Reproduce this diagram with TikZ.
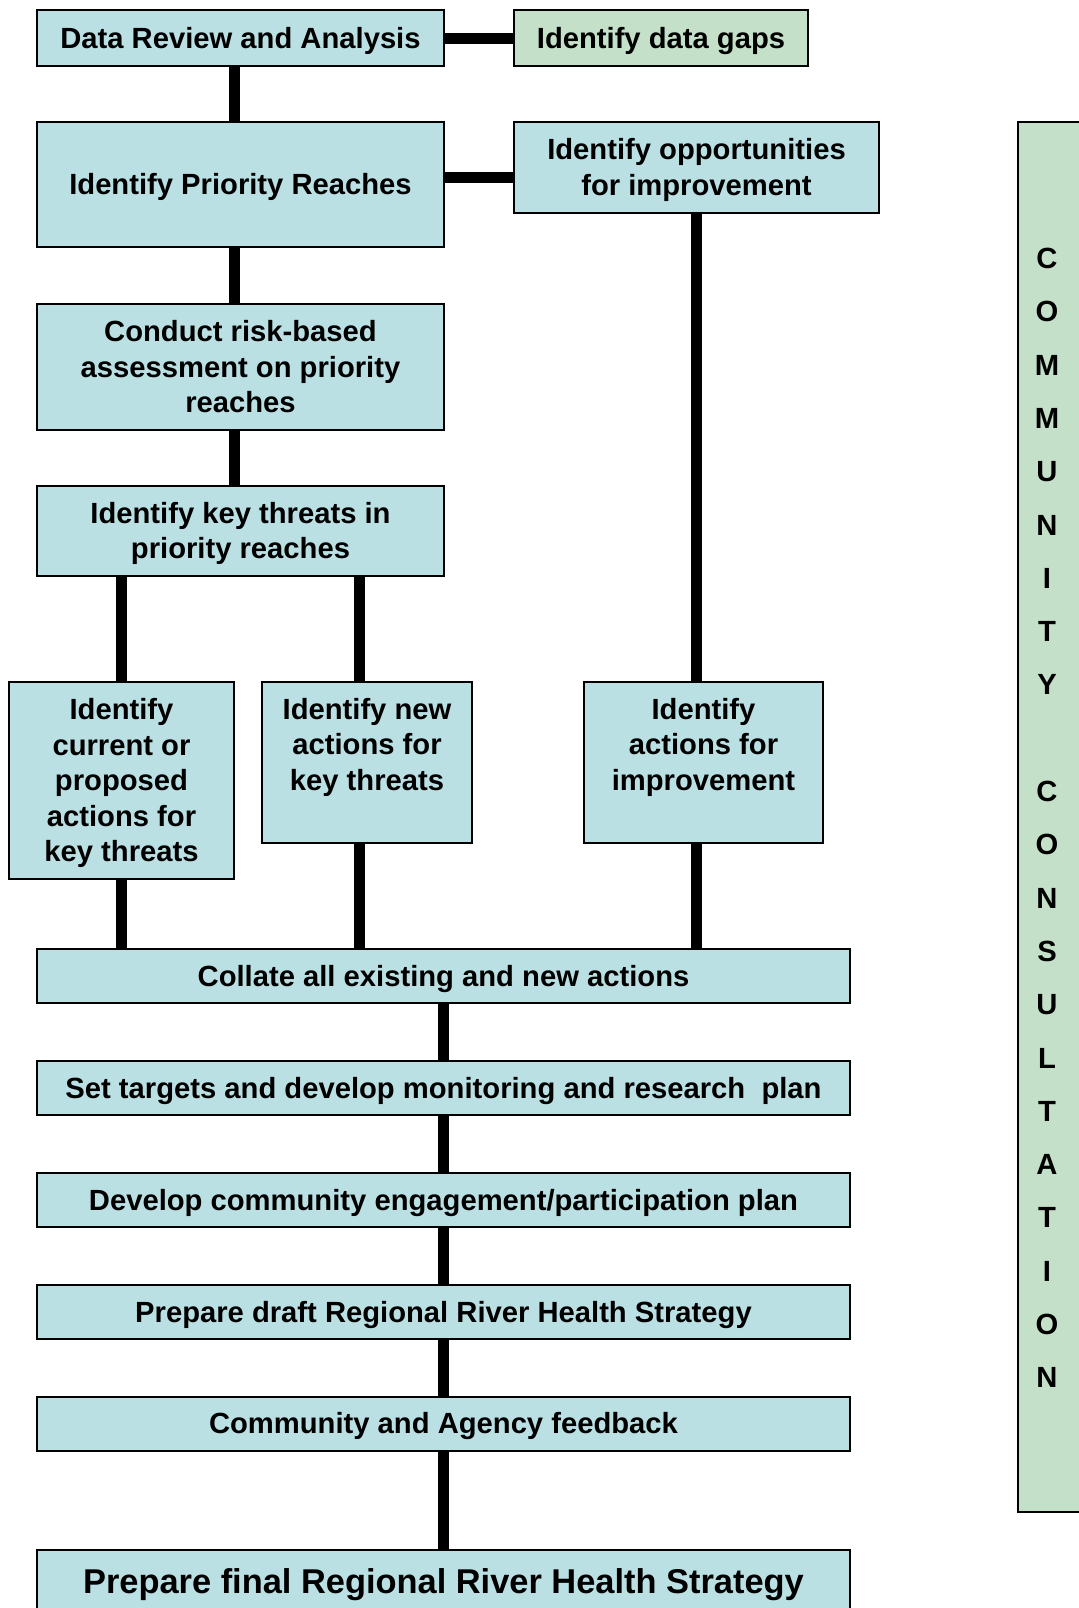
\documentclass[tikz,border=0pt]{standalone}
\usepackage{fontspec}
\setmainfont{Liberation Sans}
\usetikzlibrary{calc}
\usetikzlibrary{backgrounds}

\definecolor{boxblue}{RGB}{187,224,228}
\definecolor{boxgreen}{RGB}{196,224,200}

% line box as in the slide: full ascent and descent
\newcommand{\boxtext}[1]{\rule{0pt}{0.905em}#1\rule[-0.212em]{0pt}{0.212em}}

\tikzset{
  stage/.style={draw=black,line width=1pt,fill=boxblue,align=center,inner sep=0pt,
    font=\bfseries\fontsize{14.6}{17.7}\selectfont},
  widestage/.style={stage,minimum width=406.5pt,minimum height=27pt},
  gapbox/.style={stage,fill=boxgreen},
  link/.style={line width=5.5pt,line cap=round},
}

\begin{document}
\begin{tikzpicture}[x=0.5pt,y=-0.5pt]
        \useasboundingbox (0,0) rectangle (1079,1608);
        % left column
        \node[stage,minimum width=203.5pt,minimum height=28pt] (review) at (240.5,38) {\boxtext{Data Review and Analysis}};
        \node[gapbox,minimum width=147pt,minimum height=28pt] (gaps) at (661,38) {\boxtext{Identify data gaps}};
        \node[stage,minimum width=203.5pt,minimum height=62.5pt] (reaches) at (240.5,184.5) {\boxtext{Identify Priority Reaches}};
        \node[stage,minimum width=182.5pt,minimum height=45.5pt] (opps) at (696.5,167.5) {\boxtext{Identify opportunities\\for improvement}};
        \node[stage,minimum width=203.5pt,minimum height=63pt] (risk) at (240.5,367) {\boxtext{Conduct risk-based\\assessment on priority\\reaches}};
        \node[stage,minimum width=203.5pt,minimum height=45pt] (threats) at (240.5,531) {\boxtext{Identify key threats in\\priority reaches}};
        % actions
        \node[stage,minimum width=112.5pt,minimum height=98.5pt] (current) at (121.5,780.5) {\boxtext{Identify\\current or\\proposed\\actions for\\key threats}};
        \node[stage,minimum width=105pt,minimum height=80.5pt] (newact) at (367,762.5) {\boxtext{Identify new\\actions for\\key threats\\~}};
        \node[stage,minimum width=119.5pt,minimum height=80.5pt] (impact) at (703.5,762.5) {\boxtext{Identify\\actions for\\improvement\\~}};
        % strategy steps
        \node[widestage] (collate) at (443.5,976) {\boxtext{Collate all existing and new actions}};
        \node[widestage] (targets) at (443.5,1088) {\boxtext{Set targets and develop monitoring and research\ \ plan}};
        \node[widestage] (engage) at (443.5,1200) {\boxtext{Develop community engagement/participation plan}};
        \node[widestage] (draft) at (443.5,1312) {\boxtext{Prepare draft Regional River Health Strategy}};
        \node[widestage] (feedback) at (443.5,1423.5) {\boxtext{Community and Agency feedback}};
        \node[widestage,minimum height=32pt,font=\bfseries\fontsize{17.2}{20}\selectfont] (final) at (443.5,1582) {\boxtext{Prepare final Regional River Health Strategy}};
        % consultation bar
        \node[gapbox,minimum width=36pt,minimum height=695pt] (consult) at (1054,817) {};
        \node[font=\bfseries\fontsize{14.6}{26.65}\selectfont,align=center,inner sep=0pt] (consulttext) at (1047,818)
          {C\\O\\M\\M\\U\\N\\I\\T\\Y\\[26.65pt]C\\O\\N\\S\\U\\L\\T\\A\\T\\I\\O\\N};
        \begin{scope}[on background layer]
          \draw[link] (review.east) -- (gaps.west);
          \draw[link] ($(reaches.east |- opps.west)+(0,10)$) -- ($(opps.west)+(0,10)$);
          \draw[link] ($(review.south)+(-6.5,0)$) -- ($(reaches.north)+(-6.5,0)$);
          \draw[link] ($(reaches.south)+(-6.5,0)$) -- ($(risk.north)+(-6.5,0)$);
          \draw[link] ($(risk.south)+(-6.5,0)$) -- ($(threats.north)+(-6.5,0)$);
          \draw[link] (current.north |- threats.south) -- (current.north);
          \draw[link] ($(newact.north |- threats.south)+(-8,0)$) -- ($(newact.north)+(-8,0)$);
          \draw[link] (opps.south) -- (opps.south |- impact.north);
          \draw[link] (current.south) -- (current.south |- collate.north);
          \draw[link] ($(newact.south)+(-8,0)$) -- ($(newact.south |- collate.north)+(-8,0)$);
          \draw[link] (opps.south |- impact.south) -- (opps.south |- collate.north);
          \foreach \a/\b in {collate/targets,targets/engage,engage/draft,draft/feedback,feedback/final}
            \draw[link] (\a.south) -- (\b.north);
        \end{scope}
      \end{tikzpicture}
\end{document}
